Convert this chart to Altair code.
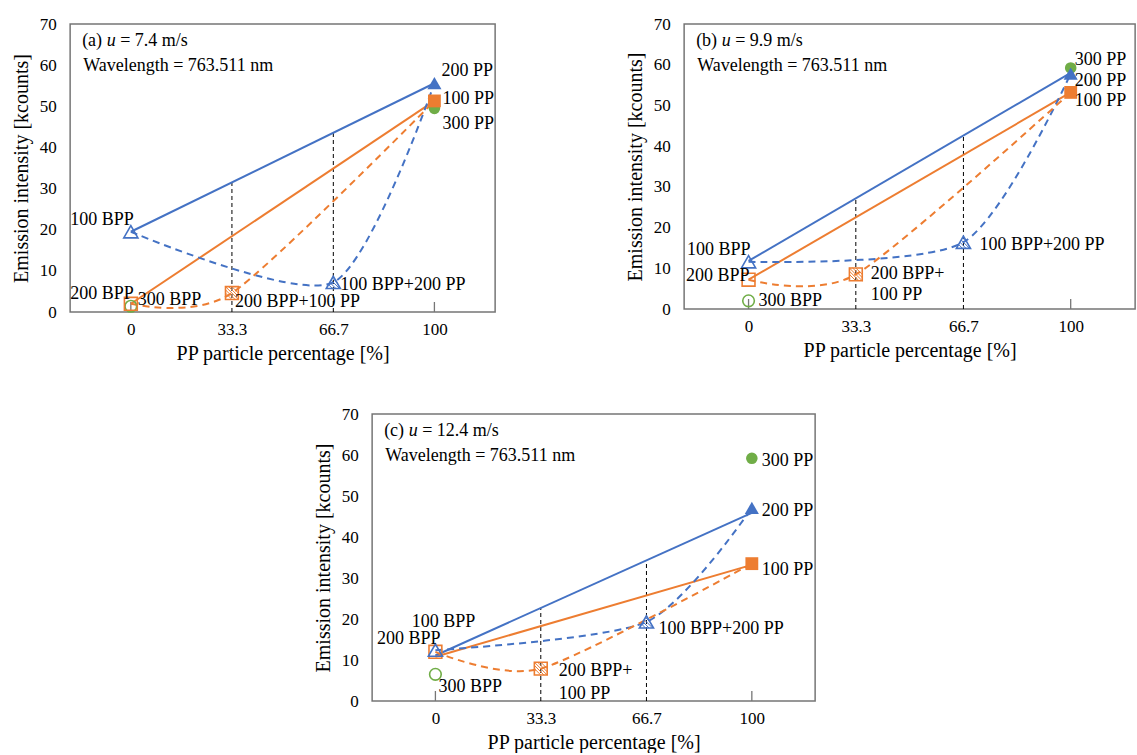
import altair as alt
import pandas as pd

FONT = "Liberation Serif"
BLUE = "#4472C4"
ORANGE = "#ED7D31"
GREEN = "#70AD47"
FRAME = "#767676"

# ---------------- data ----------------
panel_letters = ["(a)", "(b)", "(c)"]
speeds = ["7.4", "9.9", "12.4"]
wavelength_text = "Wavelength = 763.511 nm"
x_tick_values = [0, 33.3, 66.7, 100]
x_bpp = 0
x_mix_200bpp_100pp = 33.3
x_mix_100bpp_200pp = 66.7
x_pp = 100

bpp100 = [19.5, 11.6, 12.4]
pp200 = [55.6, 57.8, 47.1]
mix_100bpp_200pp = [7.2, 16.4, 19.3]
bpp200 = [2.0, 7.2, 12.0]
pp100 = [51.3, 53.2, 33.5]
mix_200bpp_100pp = [4.6, 8.5, 7.9]
bpp300 = [1.4, 2.0, 6.5]
pp300 = [49.5, 59.2, 59.2]
blue_linear_start = [19.5, 11.8, 11.1]
blue_linear_end = [55.6, 58.0, 45.9]
orange_linear_start = [2.0, 7.2, 10.8]
orange_linear_end = [51.3, 53.2, 33.2]
drop_line_x = [33.3, 66.7]
drop_line_tops = [[31.6, 43.8], [27.0, 42.6], [22.7, 34.3]]

mix_label_lines = [["200 BPP+100 PP"], ["200 BPP+", "100 PP"], ["200 BPP+", "100 PP"]]

# ---------------- label placement (styles) ----------------
label_style = [
    {"100 BPP": ("right", 3, -12), "200 BPP": ("right", 3, -10), "300 BPP": ("left", 7, -6),
     "mix_sq": ("left", 3, 9, 21), "mix_tri": ("left", 7, 3),
     "200 PP": ("left", 7, -12), "100 PP": ("left", 8, -2), "300 PP": ("left", 8, 16)},
    {"100 BPP": ("right", 2, -12), "200 BPP": ("right", 1, -4), "300 BPP": ("left", 10, 0),
     "mix_sq": ("left", 15, 0, 21), "mix_tri": ("left", 16, 3),
     "200 PP": ("left", 4, 7), "100 PP": ("left", 4, 9), "300 PP": ("left", 4, -8)},
    {"100 BPP": ("center", 8, -28), "200 BPP": ("right", 5, -13), "300 BPP": ("left", 3, 13),
     "mix_sq": ("left", 18, 2, 23), "mix_tri": ("left", 12, 7),
     "200 PP": ("left", 10, 3), "100 PP": ("left", 10, 6), "300 PP": ("left", 10, 3)},
]
LABEL_SIZE = 18
ANN_SIZE = 18
prefix_width = [24.5, 25.5, 24.5]

SQ_HATCH = "M0,-1L1,0M-0.5,-1L1,0.5M-1,-1L1,1M-1,-0.5L0.5,1M-1,0L0,1"
TRI_HATCH = ("M-0.134,-0.634L0.5,0M-0.317,-0.317L0.866,0.866"
             "M-0.5,0L0.366,0.866M-0.683,0.317L-0.134,0.866")


def one(x, y):
    return pd.DataFrame({"x": [x], "y": [y]})


def panel(i, width, height, extra_right=0):
    xs = alt.Scale(domain=[-20, 120], nice=False, zero=False)
    ys = alt.Scale(domain=[0, 70], nice=False)
    X = alt.X("x:Q", scale=xs,
              axis=alt.Axis(values=x_tick_values, format=".3~r", title="PP particle percentage [%]",
                            labelPadding=9, titlePadding=6))
    Y = alt.Y("y:Q", scale=ys,
              axis=alt.Axis(values=list(range(0, 71, 10)), title="Emission intensity [kcounts]",
                            labelPadding=14, titlePadding=8))
    layers = []
    drop = pd.DataFrame({"x": drop_line_x, "y": [0, 0], "y2": drop_line_tops[i]})
    layers.append(alt.Chart(drop).mark_rule(color="black", strokeWidth=1, strokeDash=[4, 3])
                  .encode(x=X, y=Y, y2="y2:Q"))
    tk = pd.DataFrame({"x": [0, 100]})
    layers.append(alt.Chart(tk).mark_rule(color=FRAME, strokeWidth=1.3)
                  .encode(x=X, y=alt.value(height), y2=alt.value(height - 10)))
    if extra_right:
        layers.append(alt.Chart(pd.DataFrame({"x": [0]})).mark_rule(strokeOpacity=0, opacity=0)
                      .encode(x=alt.value(width), x2=alt.value(width + extra_right),
                              y=alt.value(height / 2)))
    bl = pd.DataFrame({"x": [x_bpp, x_pp], "y": [blue_linear_start[i], blue_linear_end[i]]})
    ol = pd.DataFrame({"x": [x_bpp, x_pp], "y": [orange_linear_start[i], orange_linear_end[i]]})
    layers.append(alt.Chart(bl).mark_line(color=BLUE, strokeWidth=2).encode(x=X, y=Y))
    layers.append(alt.Chart(ol).mark_line(color=ORANGE, strokeWidth=2).encode(x=X, y=Y))
    bd = pd.DataFrame({"x": [x_bpp, x_mix_100bpp_200pp, x_pp],
                       "y": [bpp100[i], mix_100bpp_200pp[i], pp200[i]]})
    od = pd.DataFrame({"x": [x_bpp, x_mix_200bpp_100pp, x_pp],
                       "y": [bpp200[i], mix_200bpp_100pp[i], pp100[i]]})
    layers.append(alt.Chart(bd).mark_line(color=BLUE, strokeWidth=2, strokeDash=[7, 5],
                                          interpolate="cardinal", tension=0.25)
                  .encode(x=X, y=Y, order="x:Q"))
    layers.append(alt.Chart(od).mark_line(color=ORANGE, strokeWidth=2, strokeDash=[7, 5],
                                          interpolate="cardinal", tension=0.25)
                  .encode(x=X, y=Y, order="x:Q"))

    def mk(df, shape, color, filled, size, sw=1.6):
        return alt.Chart(df).mark_point(shape=shape, filled=filled, color=color, size=size,
                                        strokeWidth=sw, opacity=1).encode(x=X, y=Y)

    tri_size, sq_size, circ_size = 200, 165, 135
    layers += [
        mk(one(x_bpp, bpp300[i]), "circle", GREEN, False, circ_size),
        mk(one(x_pp, pp300[i]), "circle", GREEN, True, circ_size),
        mk(one(x_bpp, bpp200[i]), "square", ORANGE, False, sq_size),
        mk(one(x_mix_200bpp_100pp, mix_200bpp_100pp[i]), "square", ORANGE, False, sq_size),
        mk(one(x_mix_200bpp_100pp, mix_200bpp_100pp[i]), SQ_HATCH, ORANGE, False, sq_size, 1),
        mk(one(x_pp, pp100[i]), "square", ORANGE, True, sq_size),
        mk(one(x_bpp, bpp100[i]), "triangle-up", BLUE, False, tri_size),
        mk(one(x_mix_100bpp_200pp, mix_100bpp_200pp[i]), "triangle-up", BLUE, False, tri_size),
        mk(one(x_mix_100bpp_200pp, mix_100bpp_200pp[i]), TRI_HATCH, BLUE, False, tri_size, 1),
        mk(one(x_pp, pp200[i]), "triangle-up", BLUE, True, tri_size),
    ]
    st = label_style[i]

    def lab(x, y, text, key):
        s = st[key]
        align, dx, dy = s[0], s[1], s[2]
        return alt.Chart(one(x, y)).mark_text(font=FONT, fontSize=LABEL_SIZE, color="black",
                                              align=align, baseline="middle", dx=dx, dy=dy).encode(
            x=X, y=Y, text=alt.value(text))

    layers += [
        lab(x_bpp, bpp100[i], "100 BPP", "100 BPP"),
        lab(x_bpp, bpp200[i], "200 BPP", "200 BPP"),
        lab(x_bpp, bpp300[i], "300 BPP", "300 BPP"),
        lab(x_mix_100bpp_200pp, mix_100bpp_200pp[i], "100 BPP+200 PP", "mix_tri"),
        lab(x_pp, pp200[i], "200 PP", "200 PP"),
        lab(x_pp, pp100[i], "100 PP", "100 PP"),
        lab(x_pp, pp300[i], "300 PP", "300 PP"),
    ]
    s = st["mix_sq"]
    for k, line in enumerate(mix_label_lines[i]):
        layers.append(alt.Chart(one(x_mix_200bpp_100pp, mix_200bpp_100pp[i])).mark_text(
            font=FONT, fontSize=LABEL_SIZE, color="black", align=s[0], baseline="middle",
            dx=s[1], dy=s[2] + k * s[3]).encode(x=X, y=Y, text=alt.value(line)))
    dummy = pd.DataFrame({"x": [0]})
    ax0, ay0 = 12, 17
    pw = prefix_width[i]

    def ann(text, x, y, style="normal"):
        return alt.Chart(dummy).mark_text(font=FONT, fontSize=ANN_SIZE, color="black", align="left",
                                          baseline="middle", fontStyle=style).encode(
            x=alt.value(x), y=alt.value(y), text=alt.value(text))

    layers += [
        ann(panel_letters[i], ax0, ay0),
        ann("u", ax0 + pw, ay0, "italic"),
        ann("= " + speeds[i] + " m/s", ax0 + pw + 9 + 4.5, ay0),
        ann(wavelength_text, ax0 + 1, ay0 + 25),
    ]
    return alt.layer(*layers).properties(width=width, height=height)


a = panel(0, 425, 288)
b = panel(1, 451, 285)
c = panel(2, 443, 287, extra_right=18)

top = alt.hconcat(a, b, spacing=128)
chart = alt.vconcat(top, c, spacing=40, center=True).properties(
    padding={"left": 10, "top": 14, "right": 0, "bottom": 0}
).configure_view(stroke=FRAME, strokeWidth=1.5).configure_axis(
    labelFont=FONT, titleFont=FONT, labelFontSize=17, titleFontSize=20,
    labelColor="black", titleColor="black", titleFontWeight="normal",
    domain=False, ticks=False, grid=False
)

chart.save("out.html", embed_options={"renderer": "svg", "actions": False})
